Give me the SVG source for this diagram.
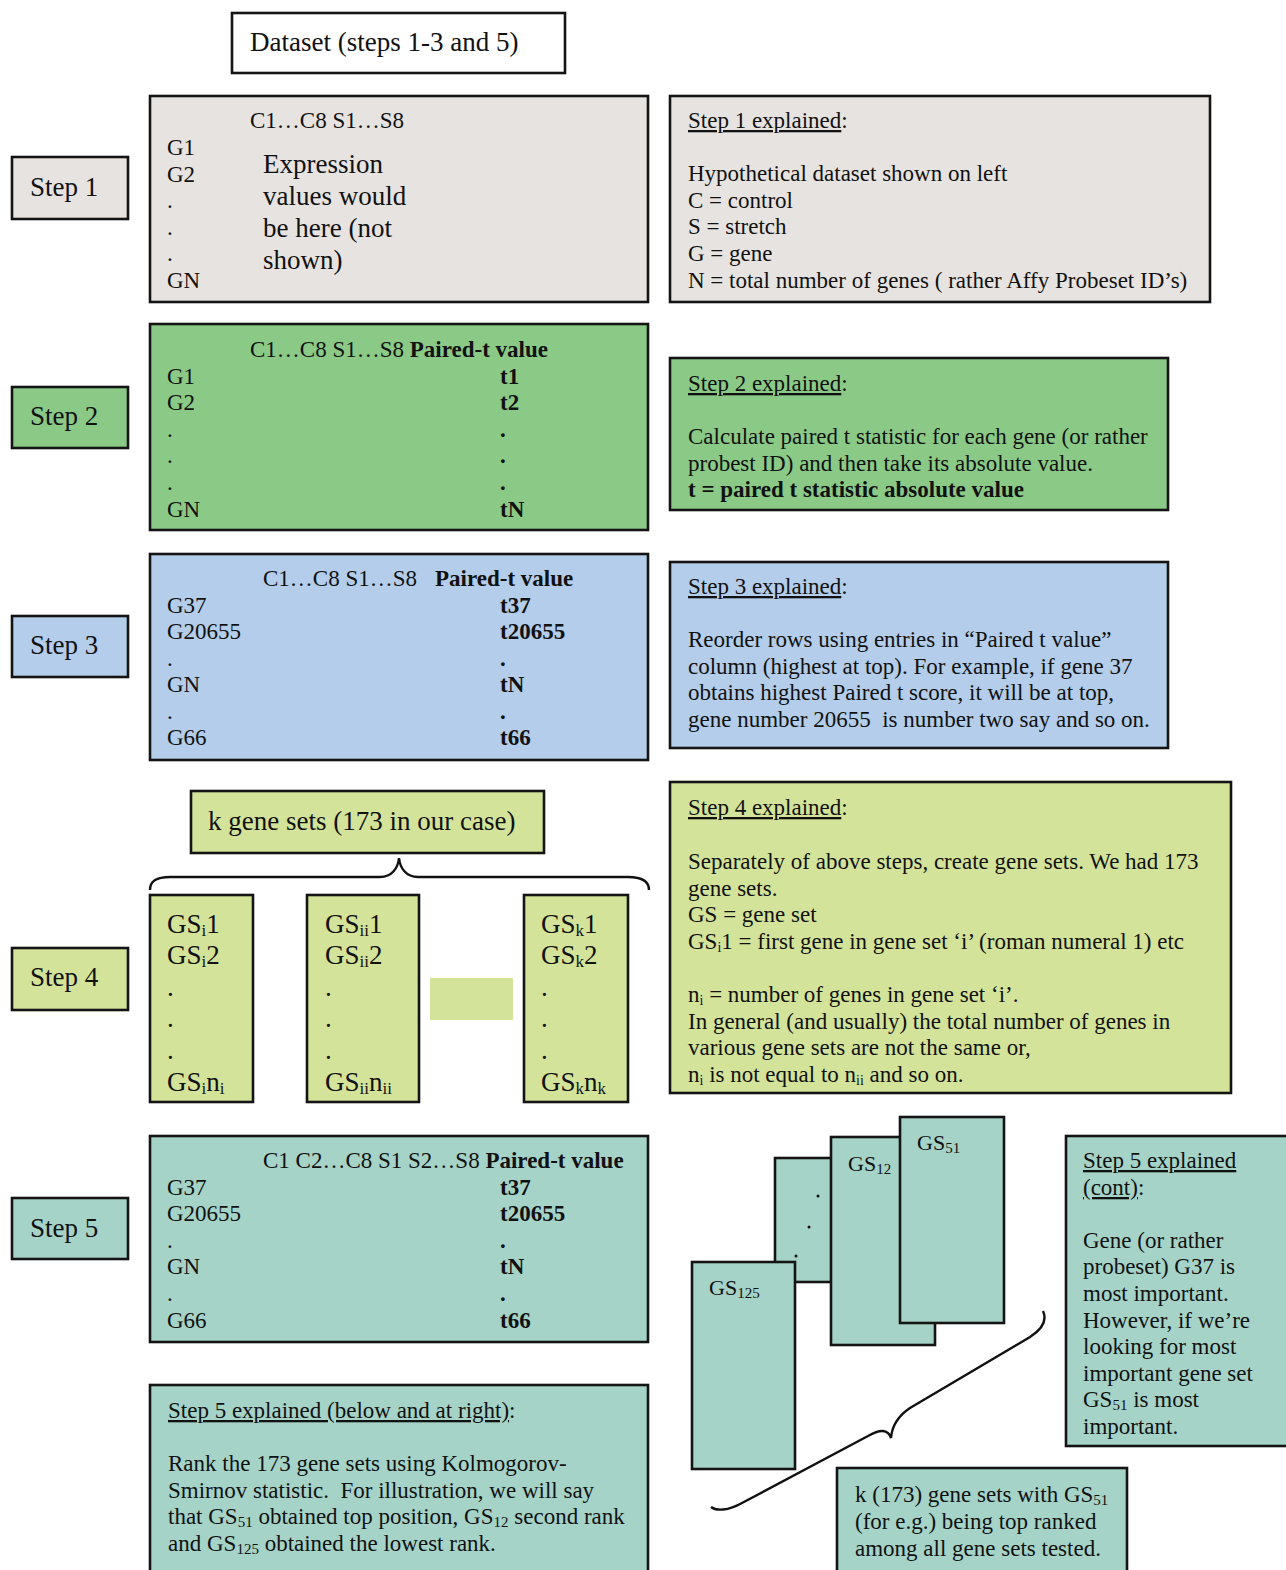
<svg xmlns="http://www.w3.org/2000/svg" width="1286" height="1570" viewBox="0 0 1286 1570">
<style>
text{font-family:"Liberation Serif","Times New Roman",serif;fill:#111;font-size:23px;white-space:pre}
.big{font-size:27px}
.gsl{font-size:22px}
.b{font-weight:bold}
.u{text-decoration:underline}
.box{stroke:#141414;stroke-width:2.6}
.white{fill:#fff}
.gray{fill:#e7e3e0}
.green{fill:#8bca86}
.blue{fill:#b3cdea}
.yg{fill:#d3e49a}
.teal{fill:#a5d3c8}
.brace{fill:none;stroke:#111;stroke-width:2.4}
</style>

<g id="dataset">
<rect class="box white" x="232" y="13" width="333" height="60"/>
<text class="big" x="250" y="51">Dataset (steps 1-3 and 5)</text>
</g>

<!-- Step 1 -->
<g id="step1-label">
<rect class="box gray" x="12" y="157" width="116" height="62"/>
<text class="big" x="30" y="196">Step 1</text>
</g>
<g id="step1-table">
<rect class="box gray" x="150" y="96" width="498" height="206"/>
<text x="250" y="128">C1…C8 S1…S8</text>
<text x="167" y="155">G1</text>
<text x="167" y="182">G2</text>
<text x="167" y="208">.</text>
<text x="167" y="235">.</text>
<text x="167" y="261">.</text>
<text x="167" y="288">GN</text>
<text class="big" x="263" y="173">Expression</text>
<text class="big" x="263" y="205">values would</text>
<text class="big" x="263" y="237">be here (not</text>
<text class="big" x="263" y="269">shown)</text>
</g>
<g id="step1-explained">
<rect class="box gray" x="670" y="96" width="540" height="206"/>
<text x="688" y="128"><tspan class="u">Step 1 explained</tspan>:</text>
<text x="688" y="181">Hypothetical dataset shown on left</text>
<text x="688" y="208">C = control</text>
<text x="688" y="234">S = stretch</text>
<text x="688" y="261">G = gene</text>
<text x="688" y="288">N = total number of genes ( rather Affy Probeset ID’s)</text>
</g>

<!-- Step 2 -->
<g id="step2-label">
<rect class="box green" x="12" y="387" width="116" height="61"/>
<text class="big" x="30" y="425">Step 2</text>
</g>
<g id="step2-table">
<rect class="box green" x="150" y="324" width="498" height="206"/>
<text x="250" y="357">C1…C8 S1…S8 <tspan class="b">Paired-t value</tspan></text>
<text x="167" y="384">G1</text>
<text x="167" y="410">G2</text>
<text x="167" y="437">.</text>
<text x="167" y="463">.</text>
<text x="167" y="490">.</text>
<text x="167" y="517">GN</text>
<text class="b" x="500" y="384">t1</text>
<text class="b" x="500" y="410">t2</text>
<text class="b" x="500" y="437">.</text>
<text class="b" x="500" y="463">.</text>
<text class="b" x="500" y="490">.</text>
<text class="b" x="500" y="517">tN</text>
</g>
<g id="step2-explained">
<rect class="box green" x="670" y="358" width="498" height="152"/>
<text x="688" y="391"><tspan class="u">Step 2 explained</tspan>:</text>
<text x="688" y="444">Calculate paired t statistic for each gene (or rather</text>
<text x="688" y="471">probest ID) and then take its absolute value.</text>
<text class="b" x="688" y="497">t = paired t statistic absolute value</text>
</g>

<!-- Step 3 -->
<g id="step3-label">
<rect class="box blue" x="12" y="616" width="116" height="61"/>
<text class="big" x="30" y="654">Step 3</text>
</g>
<g id="step3-table">
<rect class="box blue" x="150" y="554" width="498" height="206"/>
<text x="263" y="586">C1…C8 S1…S8</text>
<text class="b" x="435" y="586">Paired-t value</text>
<text x="167" y="613">G37</text>
<text x="167" y="639">G20655</text>
<text x="167" y="666">.</text>
<text x="167" y="692">GN</text>
<text x="167" y="719">.</text>
<text x="167" y="745">G66</text>
<text class="b" x="500" y="613">t37</text>
<text class="b" x="500" y="639">t20655</text>
<text class="b" x="500" y="666">.</text>
<text class="b" x="500" y="692">tN</text>
<text class="b" x="500" y="719">.</text>
<text class="b" x="500" y="745">t66</text>
</g>
<g id="step3-explained">
<rect class="box blue" x="670" y="562" width="498" height="186"/>
<text x="688" y="594"><tspan class="u">Step 3 explained</tspan>:</text>
<text x="688" y="647">Reorder rows using entries in “Paired t value”</text>
<text x="688" y="674">column (highest at top). For example, if gene 37</text>
<text x="688" y="700">obtains highest Paired t score, it will be at top,</text>
<text x="688" y="727" xml:space="preserve">gene number 20655  is number two say and so on.</text>
</g>

<!-- Step 4 -->
<g id="step4-label">
<rect class="box yg" x="12" y="948" width="116" height="62"/>
<text class="big" x="30" y="986">Step 4</text>
</g>
<g id="k-gene-sets">
<rect class="box yg" x="191" y="791" width="353" height="62"/>
<text class="big" x="208" y="830">k gene sets (173 in our case)</text>
</g>
<g id="gs-i">
<rect class="box yg" x="150" y="895" width="103" height="207"/>
<text class="big" x="167" y="933">GS<tspan font-size="17" dy="3">i</tspan><tspan dy="-3">1</tspan></text>
<text class="big" x="167" y="964">GS<tspan font-size="17" dy="3">i</tspan><tspan dy="-3">2</tspan></text>
<text class="big" x="167" y="996">.</text>
<text class="big" x="167" y="1027">.</text>
<text class="big" x="167" y="1059">.</text>
<text class="big" x="167" y="1091">GS<tspan font-size="17" dy="3">i</tspan><tspan dy="-3">n</tspan><tspan font-size="17" dy="3">i</tspan></text>
</g>
<g id="gs-ii">
<rect class="box yg" x="307" y="895" width="112" height="207"/>
<text class="big" x="325" y="933">GS<tspan font-size="17" dy="3">ii</tspan><tspan dy="-3">1</tspan></text>
<text class="big" x="325" y="964">GS<tspan font-size="17" dy="3">ii</tspan><tspan dy="-3">2</tspan></text>
<text class="big" x="325" y="996">.</text>
<text class="big" x="325" y="1027">.</text>
<text class="big" x="325" y="1059">.</text>
<text class="big" x="325" y="1091">GS<tspan font-size="17" dy="3">ii</tspan><tspan dy="-3">n</tspan><tspan font-size="17" dy="3">ii</tspan></text>
</g>
<g id="gs-gap">
<rect class="yg" x="430" y="978" width="83" height="42"/>
</g>
<g id="gs-k">
<rect class="box yg" x="524" y="895" width="104" height="207"/>
<text class="big" x="541" y="933">GS<tspan font-size="17" dy="3">k</tspan><tspan dy="-3">1</tspan></text>
<text class="big" x="541" y="964">GS<tspan font-size="17" dy="3">k</tspan><tspan dy="-3">2</tspan></text>
<text class="big" x="541" y="996">.</text>
<text class="big" x="541" y="1027">.</text>
<text class="big" x="541" y="1059">.</text>
<text class="big" x="541" y="1091">GS<tspan font-size="17" dy="3">k</tspan><tspan dy="-3">n</tspan><tspan font-size="17" dy="3">k</tspan></text>
</g>
<g id="step4-explained">
<rect class="box yg" x="670" y="782" width="561" height="311"/>
<text x="688" y="815"><tspan class="u">Step 4 explained</tspan>:</text>
<text x="688" y="869">Separately of above steps, create gene sets. We had 173</text>
<text x="688" y="896">gene sets.</text>
<text x="688" y="922">GS = gene set</text>
<text x="688" y="949">GS<tspan font-size="14" dy="3">i</tspan><tspan dy="-3">1 = first gene in gene set ‘i’ (roman numeral 1) etc</tspan></text>
<text x="688" y="1002">n<tspan font-size="14" dy="3">i</tspan><tspan dy="-3"> = number of genes in gene set ‘i’.</tspan></text>
<text x="688" y="1029">In general (and usually) the total number of genes in</text>
<text x="688" y="1055">various gene sets are not the same or,</text>
<text x="688" y="1082">n<tspan font-size="14" dy="3">i</tspan><tspan dy="-3"> is not equal to n</tspan><tspan font-size="14" dy="3">ii</tspan><tspan dy="-3"> and so on.</tspan></text>
</g>

<!-- Step 5 -->
<g id="step5-label">
<rect class="box teal" x="12" y="1198" width="116" height="61"/>
<text class="big" x="30" y="1237">Step 5</text>
</g>
<g id="step5-table">
<rect class="box teal" x="150" y="1136" width="498" height="206"/>
<text x="263" y="1168">C1 C2…C8 S1 S2…S8 <tspan class="b">Paired-t value</tspan></text>
<text x="167" y="1195">G37</text>
<text x="167" y="1221">G20655</text>
<text x="167" y="1248">.</text>
<text x="167" y="1274">GN</text>
<text x="167" y="1301">.</text>
<text x="167" y="1328">G66</text>
<text class="b" x="500" y="1195">t37</text>
<text class="b" x="500" y="1221">t20655</text>
<text class="b" x="500" y="1248">.</text>
<text class="b" x="500" y="1274">tN</text>
<text class="b" x="500" y="1301">.</text>
<text class="b" x="500" y="1328">t66</text>
</g>
<g id="step5-explained">
<rect class="box teal" x="150" y="1385" width="498" height="200"/>
<text x="168" y="1418"><tspan class="u">Step 5 explained (below and at right)</tspan>:</text>
<text x="168" y="1471">Rank the 173 gene sets using Kolmogorov-</text>
<text x="168" y="1498" xml:space="preserve">Smirnov statistic.  For illustration, we will say</text>
<text x="168" y="1524">that GS<tspan font-size="15" dy="3">51</tspan><tspan dy="-3"> obtained top position, GS</tspan><tspan font-size="15" dy="3">12</tspan><tspan dy="-3"> second rank</tspan></text>
<text x="168" y="1551">and GS<tspan font-size="15" dy="3">125</tspan><tspan dy="-3"> obtained the lowest rank.</tspan></text>
</g>

<g id="gs-dots">
<rect class="box teal" x="775" y="1158" width="57" height="124"/>
<circle cx="818" cy="1196" r="1.5" fill="#111"/>
<circle cx="809" cy="1227" r="1.5" fill="#111"/>
<circle cx="796" cy="1256" r="1.5" fill="#111"/>
</g>
<g id="gs-125">
<rect class="box teal" x="692" y="1262" width="103" height="207"/>
<text class="gsl" x="709" y="1295">GS<tspan font-size="15" dy="3">125</tspan></text>
</g>
<g id="gs-12">
<rect class="box teal" x="831" y="1137" width="104" height="208"/>
<text class="gsl" x="848" y="1171">GS<tspan font-size="15" dy="3">12</tspan></text>
</g>
<g id="gs-51">
<rect class="box teal" x="900" y="1117" width="104" height="206"/>
<text class="gsl" x="917" y="1150">GS<tspan font-size="15" dy="3">51</tspan></text>
</g>

<g id="k173">
<rect class="box teal" x="837" y="1468" width="290" height="120"/>
<text x="855" y="1502">k (173) gene sets with GS<tspan font-size="15" dy="3">51</tspan></text>
<text x="855" y="1529">(for e.g.) being top ranked</text>
<text x="855" y="1556">among all gene sets tested.</text>
</g>

<g id="step5-cont">
<rect class="box teal" x="1066" y="1136" width="230" height="310"/>
<text x="1083" y="1168" class="u">Step 5 explained</text>
<text x="1083" y="1195"><tspan class="u">(cont)</tspan>:</text>
<text x="1083" y="1248">Gene (or rather</text>
<text x="1083" y="1274">probeset) G37 is</text>
<text x="1083" y="1301">most important.</text>
<text x="1083" y="1328">However, if we’re</text>
<text x="1083" y="1354">looking for most</text>
<text x="1083" y="1381">important gene set</text>
<text x="1083" y="1407">GS<tspan font-size="15" dy="3">51</tspan><tspan dy="-3"> is most</tspan></text>
<text x="1083" y="1434">important.</text>
</g>

<g id="connectors">
<path class="brace" d="M150,890 C150,881 156,877 170,877 L380,877 C392,877 398,868 399,858 C400,868 406,877 418,877 L628,877 C642,877 649,881 649,890"/>
<path class="brace" d="M1043,1311 C1048,1322 1041,1330 1030,1337 L910,1408 C898,1416 892,1426 891,1438 C888,1429 880,1429 868,1436 L742,1503 C728,1511 716,1511 711,1507"/>
</g>
</svg>
